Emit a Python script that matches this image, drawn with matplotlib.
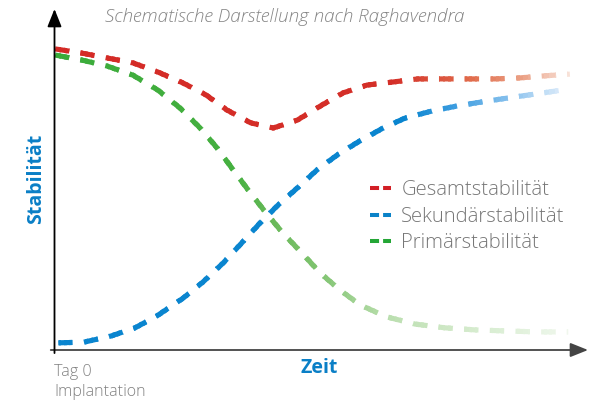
import numpy as np
import matplotlib
matplotlib.use('Agg')
import matplotlib.pyplot as plt
from matplotlib.colors import to_rgb
from matplotlib.lines import Line2D
from matplotlib.patches import Rectangle

plt.rcParams['font.family'] = ['Open Sans', 'DejaVu Sans']

# schematic values (Zeit 0..100, Stabilitaet 0..100)
gesamt_x = [0.1, 5.0, 10.0, 14.7, 19.4, 24.1, 28.4, 32.3, 36.8, 41.0, 45.5,
            50.1, 54.1, 58.6, 63.5, 68.1, 72.8, 77.9, 82.6, 87.3, 91.9, 96.6]
gesamt_y = [88.3, 87.1, 85.6, 84.2, 81.5, 78.3, 74.8, 70.4, 66.6, 65.1, 67.4,
            71.8, 75.4, 77.7, 78.6, 79.5, 79.5, 79.5, 79.5, 79.8, 80.4, 80.9]

sekundaer_x = [0.7, 5.5, 10.6, 15.1, 19.2, 24.1, 27.8, 31.6, 35.1, 38.5, 41.9, 45.5,
               49.2, 53.0, 56.9, 61.6, 65.7, 70.8, 75.6, 81.1, 86.3, 91.6, 96.3]
sekundaer_y = [2.1, 2.3, 4.1, 6.5, 10.0, 15.2, 19.9, 25.5, 31.4, 37.2, 42.5, 47.5,
               52.8, 57.2, 61.0, 65.1, 68.0, 70.1, 71.6, 73.0, 74.2, 75.4, 76.5]

primaer_x = [0.1, 5.2, 9.8, 14.7, 19.4, 23.5, 27.3, 30.5, 33.5, 36.6, 39.5, 42.8,
             46.4, 49.8, 53.5, 57.3, 62.3, 67.6, 73.2, 78.8, 84.4, 90.4, 96.3]
primaer_y = [86.5, 85.0, 83.3, 80.6, 76.2, 71.0, 65.1, 59.2, 52.8, 46.3, 40.5, 34.3,
             28.4, 22.6, 17.6, 13.2, 9.7, 7.6, 6.5, 5.9, 5.6, 5.3, 5.3]

labels = ['Gesamtstabilität', 'Sekundärstabilität', 'Primärstabilität']
legend_colors = ['#d21f26', '#0a82c8', '#24a636']

# colour fade along x: (x position, colour)
fade_red = [(0, '#d42a26'), (63.5, '#d42f28'), (77.9, '#e06a4a'),
            (87.3, '#ea9c80'), (96.6, '#f8e2d8'), (100, '#fbeee8')]
fade_blue = [(0, '#0a85cf'), (65.7, '#0a85cf'), (75.6, '#3d9de0'),
             (86.3, '#8ec4ee'), (96.3, '#e4effb'), (100, '#eef5fc')]
fade_green = [(0, '#3aab3a'), (34, '#45b040'), (42, '#6cba5c'), (50, '#80c470'),
              (57, '#a2d395'), (64, '#bde0b2'), (73, '#cde7c4'), (84, '#dcefd6'),
              (96, '#eff7ec'), (100, '#f4faf2')]

DASH = (2.8, 2.2)
LW = 3.7


def faded_line(ax, x, y, stops, zorder):
    sx = [s[0] for s in stops]
    sc = np.array([to_rgb(s[1]) for s in stops])
    edges = np.linspace(0, 100, 101)
    for a, b in zip(edges[:-1], edges[1:]):
        m = (a + b) / 2
        col = [np.interp(m, sx, sc[:, k]) for k in range(3)]
        ln, = ax.plot(x, y, color=col, lw=LW, dashes=DASH,
                      dash_capstyle='butt', dash_joinstyle='round',
                      zorder=zorder, clip_on=True)
        r = Rectangle((a - 0.25, -20), (b - a) + 0.5, 140, transform=ax.transData)
        ln.set_clip_path(r)


fig = plt.figure(figsize=(5.95, 4.0), dpi=100)
ax = fig.add_axes([54.5 / 595, 0.125, (588 - 54.5) / 595, 341 / 400])
ax.set_xlim(0, 100)
ax.set_ylim(0, 100)
ax.axis('off')

faded_line(ax, primaer_x, primaer_y, fade_green, 3)
faded_line(ax, sekundaer_x, sekundaer_y, fade_blue, 4)
faded_line(ax, gesamt_x, gesamt_y, fade_red, 5)

# axes with arrows
ax.annotate('', xy=(1.0, 0), xytext=(-0.007, 0), xycoords='axes fraction',
            arrowprops=dict(arrowstyle='-|>,head_length=0.9,head_width=0.36',
                            lw=1.3, color='#444444', mutation_scale=12,
                            shrinkA=0, shrinkB=0), zorder=6)
ax.annotate('', xy=(0, 1.0), xytext=(0, -0.009), xycoords='axes fraction',
            arrowprops=dict(arrowstyle='-|>,head_length=0.9,head_width=0.36',
                            lw=1.3, color='black', mutation_scale=12,
                            shrinkA=0, shrinkB=0), zorder=6)

handles = [Line2D([], [], color=c, lw=2.9, dashes=(2.25, 1.0), dash_capstyle='butt')
           for c in legend_colors]
leg = ax.legend(handles, labels, loc='upper left', frameon=False,
                bbox_to_anchor=(370 / 595, 1 - 180 / 400),
                bbox_transform=fig.transFigure, borderpad=0, borderaxespad=0,
                handlelength=1.05, handletextpad=0.5, labelspacing=0.33,
                prop={'size': 14.6, 'weight': 'light'})
for t in leg.get_texts():
    t.set_color('#777777')

fig.text(285 / 595, 1 - 17 / 400, 'Schematische Darstellung nach Raghavendra',
         ha='center', va='center', fontsize=13.6, style='italic',
         weight='light', color='#858585')
fig.text(319 / 595, 1 - 368 / 400, 'Zeit', ha='center', va='center',
         fontsize=14, weight='bold', color='#0a7fc6')
fig.text(36 / 595, 1 - 179 / 400, 'Stabilität', ha='center', va='center',
         rotation=90, fontsize=14, weight='bold', color='#0a7fc6')
fig.text(54 / 595, 1 - 364 / 400, 'Tag 0\nImplantation', ha='left', va='top',
         fontsize=11.6, weight='light', color='#808080', linespacing=1.3)

plt.savefig('out.png', dpi=100)
